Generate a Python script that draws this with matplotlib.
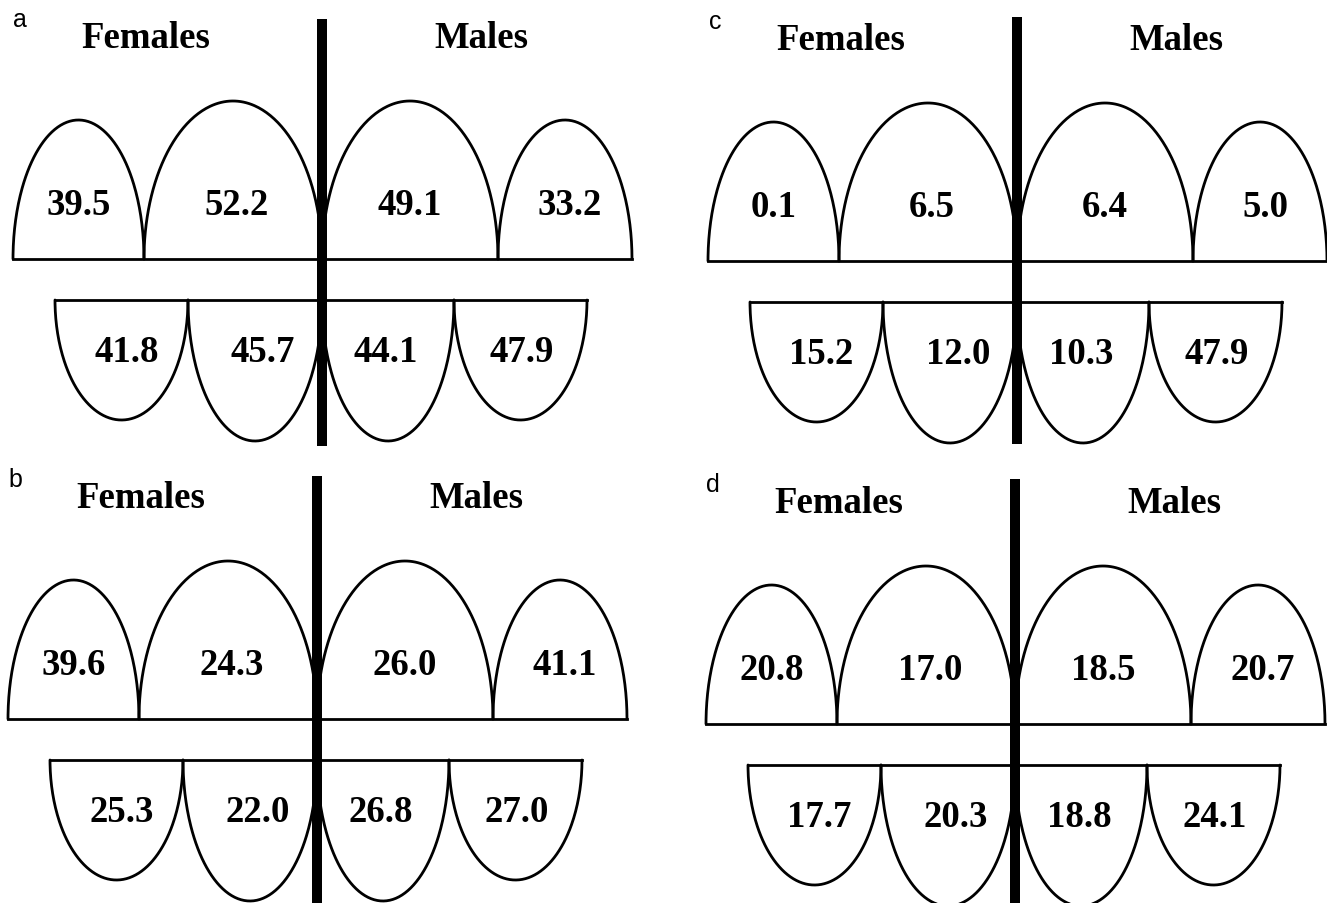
import numpy as np
import matplotlib
matplotlib.use('Agg')
import matplotlib.pyplot as plt

# values shown in the domes, panel by panel (left to right)
panel_letters = ['a', 'b', 'c', 'd']
side_titles = ['Females', 'Males']
upper_vals = [[39.5, 52.2, 49.1, 33.2],
              [39.6, 24.3, 26.0, 41.1],
              [0.1, 6.5, 6.4, 5.0],
              [20.8, 17.0, 18.5, 20.7]]
lower_vals = [[41.8, 45.7, 44.1, 47.9],
              [25.3, 22.0, 26.8, 27.0],
              [15.2, 12.0, 10.3, 47.9],
              [17.7, 20.3, 18.8, 24.1]]

# layout (pixels): bar x, upper baseline y, bar top, bar bottom per panel
panel_pos = [(322, 260, 20, 447),
             (317, 720, 477, 904),
             (1017, 262, 18, 445),
             (1015, 725, 480, 904)]
upper_edges = [-309, -178, 0, 176, 310]
upper_h = [139, 158, 158, 139]
upper_shift = [0, 4, 0, 5]
lower_edges = [-267, -134, 0, 132, 265]
lower_h = [120, 141, 141, 120]
lower_shift = [5, 8, -2, 1]
lower_gap = 41

LW = 2.0
serif = dict(family='Liberation Serif', weight='bold', fontsize=26.5)


def dome(ax, x0, x1, base, h, sign):
    t = np.linspace(0, np.pi, 200)
    cx = (x0 + x1) / 2
    a = (x1 - x0) / 2
    xs = cx + a * np.cos(t)
    ys = base - sign * h * np.sin(t)
    ax.plot(xs, ys, color='black', lw=LW, solid_capstyle='round', zorder=2)


fig = plt.figure(figsize=(13.27, 9.04), dpi=100)
ax = fig.add_axes([0, 0, 1, 1])
ax.set_xlim(0, 1327)
ax.set_ylim(904, 0)
ax.axis('off')

for i, (bx, by, btop, bbot) in enumerate(panel_pos):
    lby = by + lower_gap
    # upper row of domes
    for k in range(4):
        x0, x1 = bx + upper_edges[k], bx + upper_edges[k + 1]
        dome(ax, x0, x1, by, upper_h[k], 1)
        ax.text((x0 + x1) / 2 + upper_shift[k], by - 45, '%.1f' % upper_vals[i][k],
                ha='center', va='baseline', **serif)
    ax.plot([bx + upper_edges[0], bx + upper_edges[-1]], [by, by],
            color='black', lw=LW, zorder=2)
    # lower row of domes
    for k in range(4):
        x0, x1 = bx + lower_edges[k], bx + lower_edges[k + 1]
        dome(ax, x0, x1, lby, lower_h[k], -1)
        ax.text((x0 + x1) / 2 + lower_shift[k], lby + 61, '%.1f' % lower_vals[i][k],
                ha='center', va='baseline', **serif)
    ax.plot([bx + lower_edges[0], bx + lower_edges[-1]], [lby, lby],
            color='black', lw=LW, zorder=2)
    # central bar
    ax.plot([bx, bx], [btop, bbot], color='black', lw=7.2,
            solid_capstyle='butt', zorder=3)
    # titles and panel letter
    ax.text(bx - 176, by - 212, side_titles[0], ha='center', va='baseline', **serif)
    ax.text(bx + 159, by - 212, side_titles[1], ha='center', va='baseline', **serif)
    ax.text(bx - 302, by - 240, panel_letters[i], ha='center', va='center',
            family='Liberation Sans', fontsize=18)

fig.savefig('out.png', dpi=100, facecolor='white')
